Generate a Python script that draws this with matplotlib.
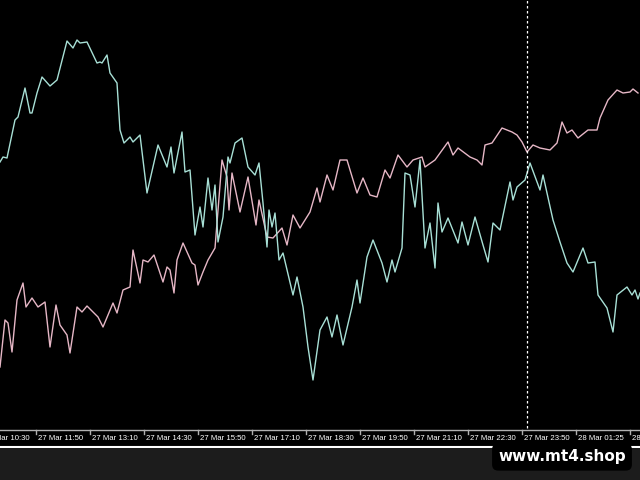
import numpy as np
import matplotlib.pyplot as plt

# values (x = bar position, y = price level, screen units, larger = lower)
cyan_x = [0, 3, 7, 15, 18, 25, 30, 32, 37, 42, 50, 57, 67, 73, 77, 80, 87, 97, 100, 102, 107, 110, 117, 120,
          124, 130, 133, 140, 147, 158, 167, 171, 174, 182, 185, 190, 195, 200, 203, 208, 212, 215, 218, 223,
          228, 230, 235, 242, 248, 255, 259, 263, 267, 269, 272, 275, 279, 283, 293, 297, 303, 308, 313, 320,
          327, 332, 337, 343, 352, 357, 360, 367, 373, 382, 387, 392, 395, 402, 405, 410, 415, 420, 425, 430,
          435, 438, 442, 448, 458, 462, 468, 475, 483, 488, 493, 500, 510, 513, 517, 525, 530, 540, 543, 553,
          560, 567, 573, 583, 588, 595, 598, 607, 613, 617, 627, 632, 635, 638, 640]
cyan_y = [162, 157, 158, 120, 117, 88, 113, 113, 93, 77, 86, 80, 41, 48, 40, 43, 42, 63, 62, 63, 55, 73, 83, 130,
          143, 137, 142, 135, 193, 145, 167, 147, 173, 132, 172, 170, 235, 207, 227, 178, 210, 185, 242, 217,
          157, 163, 143, 138, 167, 175, 163, 203, 247, 210, 227, 213, 260, 253, 295, 277, 307, 347, 380, 330,
          317, 337, 315, 345, 307, 280, 303, 257, 240, 263, 282, 260, 272, 248, 173, 175, 207, 160, 248, 223,
          268, 203, 232, 218, 243, 222, 245, 217, 245, 262, 223, 230, 182, 200, 187, 180, 163, 190, 175, 220,
          242, 263, 272, 248, 263, 262, 295, 308, 332, 295, 287, 295, 290, 299, 293]

pink_x = [0, 5, 8, 12, 17, 23, 26, 32, 38, 45, 50, 56, 60, 67, 70, 77, 82, 87, 98, 103, 113, 117, 123, 130,
          133, 140, 143, 148, 154, 163, 167, 170, 174, 177, 183, 192, 195, 198, 203, 208, 215, 222, 227, 229,
          232, 240, 248, 256, 259, 267, 273, 282, 287, 293, 300, 310, 317, 320, 327, 333, 340, 347, 357, 363,
          370, 377, 385, 390, 398, 407, 413, 422, 425, 435, 448, 453, 458, 470, 477, 482, 485, 492, 502, 512,
          517, 522, 527, 533, 540, 550, 557, 562, 567, 572, 578, 588, 597, 600, 608, 617, 623, 630, 633, 638]
pink_y = [367, 320, 323, 352, 300, 283, 307, 298, 307, 302, 347, 305, 325, 335, 353, 307, 312, 306, 317, 327,
          303, 313, 290, 287, 250, 283, 260, 262, 255, 282, 267, 270, 293, 260, 243, 263, 265, 285, 272, 260,
          248, 160, 177, 210, 173, 212, 177, 225, 200, 237, 238, 228, 245, 215, 228, 212, 188, 202, 175, 190,
          160, 160, 193, 178, 195, 197, 170, 178, 155, 167, 160, 157, 167, 160, 142, 155, 148, 157, 160, 165,
          145, 143, 128, 132, 135, 142, 152, 145, 148, 150, 143, 122, 133, 130, 138, 130, 130, 118, 100, 90,
          93, 92, 89, 93]

tick_x = [-18, 36, 90, 144, 198, 252, 306, 360, 414, 468, 522, 576, 630]
tick_labels = ['27 Mar 10:30', '27 Mar 11:50', '27 Mar 13:10', '27 Mar 14:30', '27 Mar 15:50',
               '27 Mar 17:10', '27 Mar 18:30', '27 Mar 19:50', '27 Mar 21:10', '27 Mar 22:30',
               '27 Mar 23:50', '28 Mar 01:25', '28 Mar 02:45']
cursor_x = 527

fig = plt.figure(figsize=(6.4, 4.8), dpi=100)
fig.patch.set_facecolor('#1c1c1c')
ax = fig.add_axes([0, 1 - 448 / 480, 1, 448 / 480])
ax.set_facecolor('black')
ax.set_xlim(0, 640)
ax.set_ylim(448, 0)

ax.plot(pink_x, pink_y, color='#e6b7c6', lw=1)
ax.plot(cyan_x, cyan_y, color='#a8e0d6', lw=1)
ax.axvline(cursor_x, color='white', ls=(0, (2, 2)), lw=0.9)

# time axis strip
ax.fill_between([0, 640], 430, 447, color='black', zorder=3)
ax.axhline(430, color='#b0b0b0', lw=1, zorder=4)
ax.axhline(447, color='white', lw=1.5, zorder=4)
for tx, lab in zip(tick_x, tick_labels):
    ax.plot([tx, tx], [430, 434], color='#b0b0b0', lw=1, zorder=4)
    ax.text(tx + 2, 438.5, lab, color='white', fontsize=5.6, ha='left', va='center',
            family='Liberation Sans', zorder=5, clip_on=True)
ax.set_xticks([])
ax.set_yticks([])
for s in ax.spines.values():
    s.set_visible(False)

fig.text(562 / 640, 1 - 457 / 480, 'www.mt4.shop', color='white', fontsize=11, fontweight='bold',
         ha='center', va='center',
         bbox=dict(boxstyle='round,pad=0.4', fc='black', ec='none'))

plt.savefig('out.png', dpi=100, facecolor=fig.get_facecolor())
